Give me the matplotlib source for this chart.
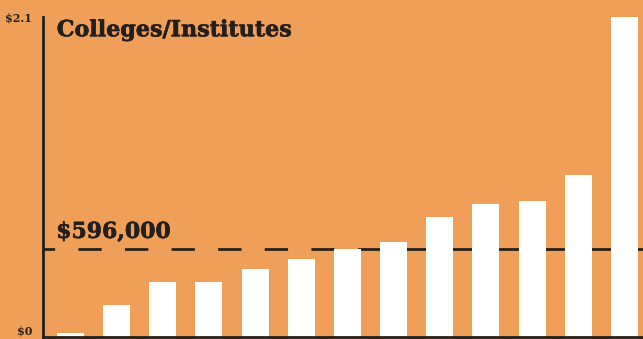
import matplotlib.pyplot as plt
import matplotlib.patheffects as pe
import numpy as np

# Values in $ millions, sorted low to high
institutions = ['C1', 'C2', 'C3', 'C4', 'C5', 'C6', 'C7', 'C8', 'C9', 'C10', 'C11', 'C12', 'C13']
amounts = [0.03, 0.214, 0.375, 0.375, 0.462, 0.529, 0.596, 0.643, 0.81, 0.898, 0.918, 1.098, 2.163]
median_value = 0.596
median_label = '$596,000'
title = 'Colleges/Institutes'
tick_values = [0, 2.163]
tick_labels = ['$0', '$2.1']

BG = '#EF9F58'
INK = '#231f1c'
heavy = [pe.withStroke(linewidth=0.45, foreground=INK)]

fig = plt.figure(figsize=(6.43, 3.39), dpi=100, facecolor=BG)
ax = fig.add_axes([43 / 643, 2 / 339, 600 / 643, 320 / 339])
ax.set_facecolor(BG)

x = np.arange(len(amounts))
ax.bar(x, amounts, width=0.585, color='white', zorder=2, clip_on=False)

# median reference line, drawn behind the bars
ax.axhline(median_value, color=INK, linewidth=1.95, zorder=1,
           linestyle=(4.3, (8.6, 8.6)))
ax.text(0.022, median_value + 0.04, median_label, transform=ax.get_yaxis_transform(),
        family='DejaVu Serif', fontweight='bold', fontsize=15.8, color=INK,
        ha='left', va='bottom', path_effects=heavy)

ax.text(0.023, 0.993, title, transform=ax.transAxes, family='DejaVu Serif',
        fontweight='bold', fontsize=16, color=INK, ha='left', va='top',
        path_effects=heavy)

ax.set_xlim(-0.591, 12.4)
ax.set_ylim(0, 2.14)
ax.set_xticks([])
ax.set_yticks(tick_values)
ax.set_yticklabels(tick_labels, family='DejaVu Serif', fontweight='bold',
                   fontsize=8, color=INK)
ax.tick_params(axis='y', length=0, pad=8)
ax.get_yticklabels()[0].set_va('bottom')

for side in ['top', 'right']:
    ax.spines[side].set_visible(False)
for side in ['left', 'bottom']:
    ax.spines[side].set_color(INK)
    ax.spines[side].set_linewidth(2)
    ax.spines[side].set_zorder(3)

fig.savefig('out.png', dpi=100, facecolor=BG)
